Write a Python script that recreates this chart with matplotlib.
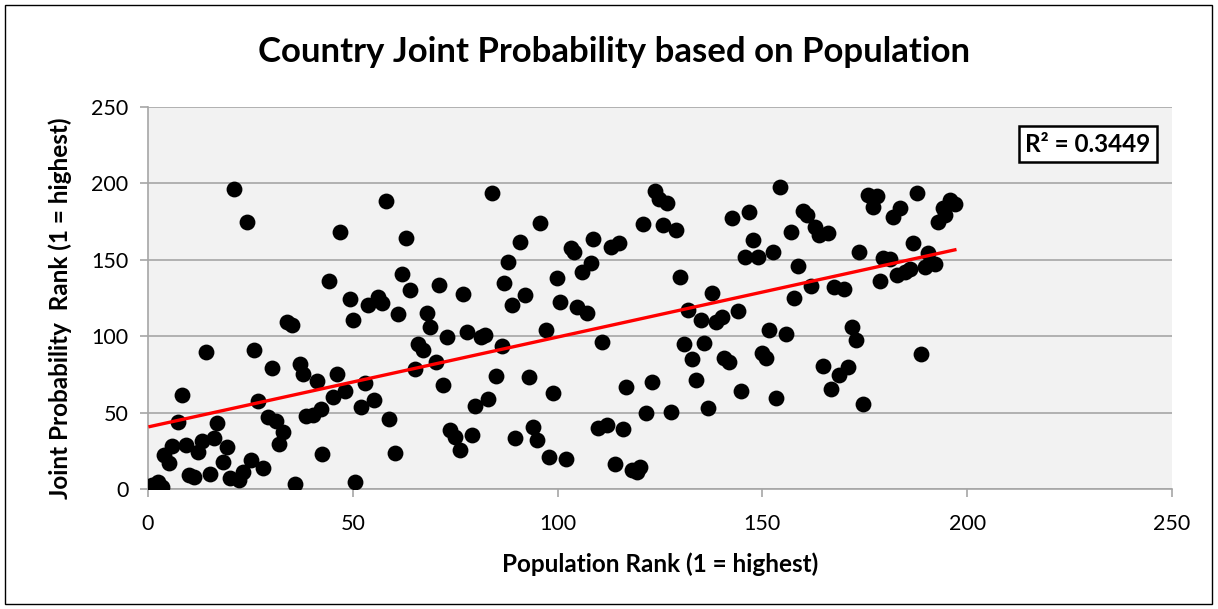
import numpy as np
import matplotlib
matplotlib.use("Agg")
import matplotlib.pyplot as plt
from matplotlib.patches import Rectangle

plt.rcParams['font.family'] = ['Lato', 'DejaVu Sans']

# population rank (x) and joint probability rank (y)
pop_rank = [
    21.0, 24.1, 46.9, 44.1, 49.2, 50.1, 33.9, 35.2, 14.2, 26.0, 30.2, 37.1, 37.9, 41.2, 46.1, 45.2, 48.1,
    8.2, 26.9, 7.4, 16.9, 29.2, 31.3, 32.9, 32.1, 38.7, 40.4, 42.2, 42.6, 36.0, 50.5, 5.9, 4.0, 5.1,
    9.3, 13.1, 12.3, 16.1, 19.2, 18.2, 10.0, 11.3, 15.1, 20.0, 22.3, 23.3, 25.1, 28.1, 0.9, 2.5, 3.3,
    58.0, 63.0, 83.9, 95.7, 90.8, 88.0, 99.8, 100.7, 87.0, 92.0, 88.9, 61.9, 64.0, 71.1, 77.0, 53.8,
    56.2, 57.2, 61.1, 68.0, 68.8, 72.9, 78.0, 81.3, 82.3, 66.0, 67.2, 86.4, 97.2, 65.2, 70.3, 53.0,
    72.1, 84.9, 93.0, 98.8, 52.0, 55.2, 79.8, 83.1, 58.9, 73.7, 75.0, 79.0, 76.2, 89.6, 93.9, 94.9,
    98.0, 102.1, 60.3,
    123.9, 124.8, 126.8, 154.3, 142.7, 146.8, 147.8, 145.8, 148.9, 152.7, 120.8, 125.8, 128.9, 108.7,
    103.2, 104.0, 113.0, 115.1, 108.2, 105.9, 129.9, 137.6, 104.8, 107.2, 131.8, 135.0, 138.7, 140.1,
    144.0, 151.7, 110.8, 130.9, 135.8, 132.7, 140.7, 141.9, 149.8, 151.0, 133.9, 116.7, 123.0, 144.9,
    153.3, 121.6, 127.7, 136.8, 109.9, 112.0, 115.9, 114.0, 118.1, 120.1, 119.5,
    175.9, 177.9, 176.9, 187.7, 182.0, 183.6, 195.8, 197.0, 194.0, 194.6, 192.8, 160.0, 161.0, 156.9,
    162.8, 163.8, 166.1, 173.7, 186.8, 158.8, 179.4, 181.2, 190.5, 182.8, 184.8, 186.0, 189.7, 192.1,
    178.7, 161.8, 167.5, 170.0, 157.7, 155.8, 171.8, 172.9, 188.7, 164.9, 168.8, 171.0, 166.7, 174.6,
]
joint_rank = [
    196.3, 174.5, 168.0, 136.0, 124.3, 110.6, 109.0, 107.3, 89.9, 90.8, 79.0, 81.8, 75.3, 70.7, 75.3, 60.4, 64.3,
    61.3, 57.6, 44.0, 43.0, 46.9, 44.7, 37.1, 29.5, 47.8, 48.4, 52.2, 22.9, 3.1, 4.4, 28.1, 22.3, 16.8,
    28.6, 31.4, 24.4, 33.2, 27.3, 17.5, 9.2, 8.1, 9.6, 7.0, 5.9, 11.3, 19.0, 13.9, 2.6, 4.8, 1.0,
    188.7, 164.5, 193.9, 173.9, 161.9, 148.8, 137.9, 122.6, 135.0, 127.0, 120.2, 140.5, 130.2, 133.5, 127.6, 120.2,
    125.5, 121.9, 114.3, 115.4, 105.8, 99.3, 102.5, 99.3, 100.8, 94.7, 91.0, 93.8, 104.1, 78.3, 83.3, 69.2,
    68.1, 74.0, 73.1, 63.0, 53.9, 58.2, 54.5, 58.7, 45.6, 38.6, 34.2, 35.3, 25.5, 33.2, 40.8, 32.1,
    21.1, 19.4, 23.8,
    195.2, 189.6, 187.4, 197.4, 177.2, 181.5, 163.0, 151.6, 151.6, 155.3, 173.2, 172.8, 169.5, 163.6,
    157.9, 155.3, 158.6, 160.8, 148.1, 141.8, 138.5, 128.5, 119.3, 115.0, 117.1, 110.6, 109.5, 112.8,
    116.7, 104.1, 96.4, 94.9, 95.7, 84.9, 85.5, 83.3, 89.2, 85.5, 71.3, 66.5, 69.8, 64.1,
    59.8, 49.5, 50.6, 53.2, 39.7, 41.9, 39.0, 16.1, 12.4, 14.6, 11.3,
    192.4, 191.8, 184.4, 193.5, 177.8, 183.7, 189.1, 186.5, 183.7, 179.3, 174.5, 181.9, 179.3, 168.0,
    171.7, 166.2, 167.3, 155.3, 160.8, 145.9, 151.0, 150.3, 154.7, 140.1, 142.2, 143.8, 145.5, 147.1,
    136.3, 132.9, 132.0, 130.9, 125.2, 101.4, 106.2, 97.5, 88.3, 80.7, 74.6, 80.0, 65.4, 55.4,
]
r2_label = "R² = 0.3449"

x = np.array(pop_rank)
y = np.array(joint_rank)

fig = plt.figure(figsize=(12.18, 6.09), dpi=100)
ax = fig.add_axes([0.1215, 0.197, 0.8407, 0.6273])
ax.set_facecolor('#f2f2f2')

ax.scatter(x, y, s=130, color='black', zorder=3, linewidths=0)

# linear trendline
slope, intercept = np.polyfit(x, y, 1)
xs = np.array([0.5, x.max()])
ax.plot(xs, slope * xs + intercept, color='#ff0000', lw=2.4, zorder=4)

ax.set_xlim(0, 250)
ax.set_ylim(0, 250)
ax.set_xticks(range(0, 251, 50))
ax.set_yticks(range(0, 251, 50))
ax.yaxis.grid(True, color='#a6a6a6', lw=1.2)
ax.set_axisbelow(True)
for side in ['top', 'right']:
    ax.spines[side].set_visible(False)
for side in ['left', 'bottom']:
    ax.spines[side].set_color('#a6a6a6')
    ax.spines[side].set_linewidth(1.2)
ax.tick_params(axis='both', colors='#a6a6a6', labelcolor='black', labelsize=15.5, length=6, width=1.2)
ax.tick_params(axis='x', pad=12)
ax.tick_params(axis='y', pad=8)

ax.set_xlabel('Population Rank (1 = highest)', fontsize=17.5, fontweight='bold')
ax.xaxis.set_label_coords(0.5, -0.165)
ax.set_ylabel('Joint Probability  Rank (1 = highest)', fontsize=17.5, fontweight='bold')
ax.yaxis.set_label_coords(-0.074, 0.474)
fig.text(0.504, 0.915, 'Country Joint Probability based on Population', ha='center', va='center',
         fontsize=25, fontweight='bold')

ax.text(0.918, 0.903, r2_label, transform=ax.transAxes, ha='center', va='center', fontsize=17.5,
        fontweight='bold', bbox=dict(boxstyle='square,pad=0.25', fc='white', ec='black', lw=1.8))

fig.patches.append(Rectangle((0.004, 0.008), 0.991, 0.984, transform=fig.transFigure,
                             fill=False, ec='black', lw=1.0))

fig.savefig('out.png', dpi=100)
